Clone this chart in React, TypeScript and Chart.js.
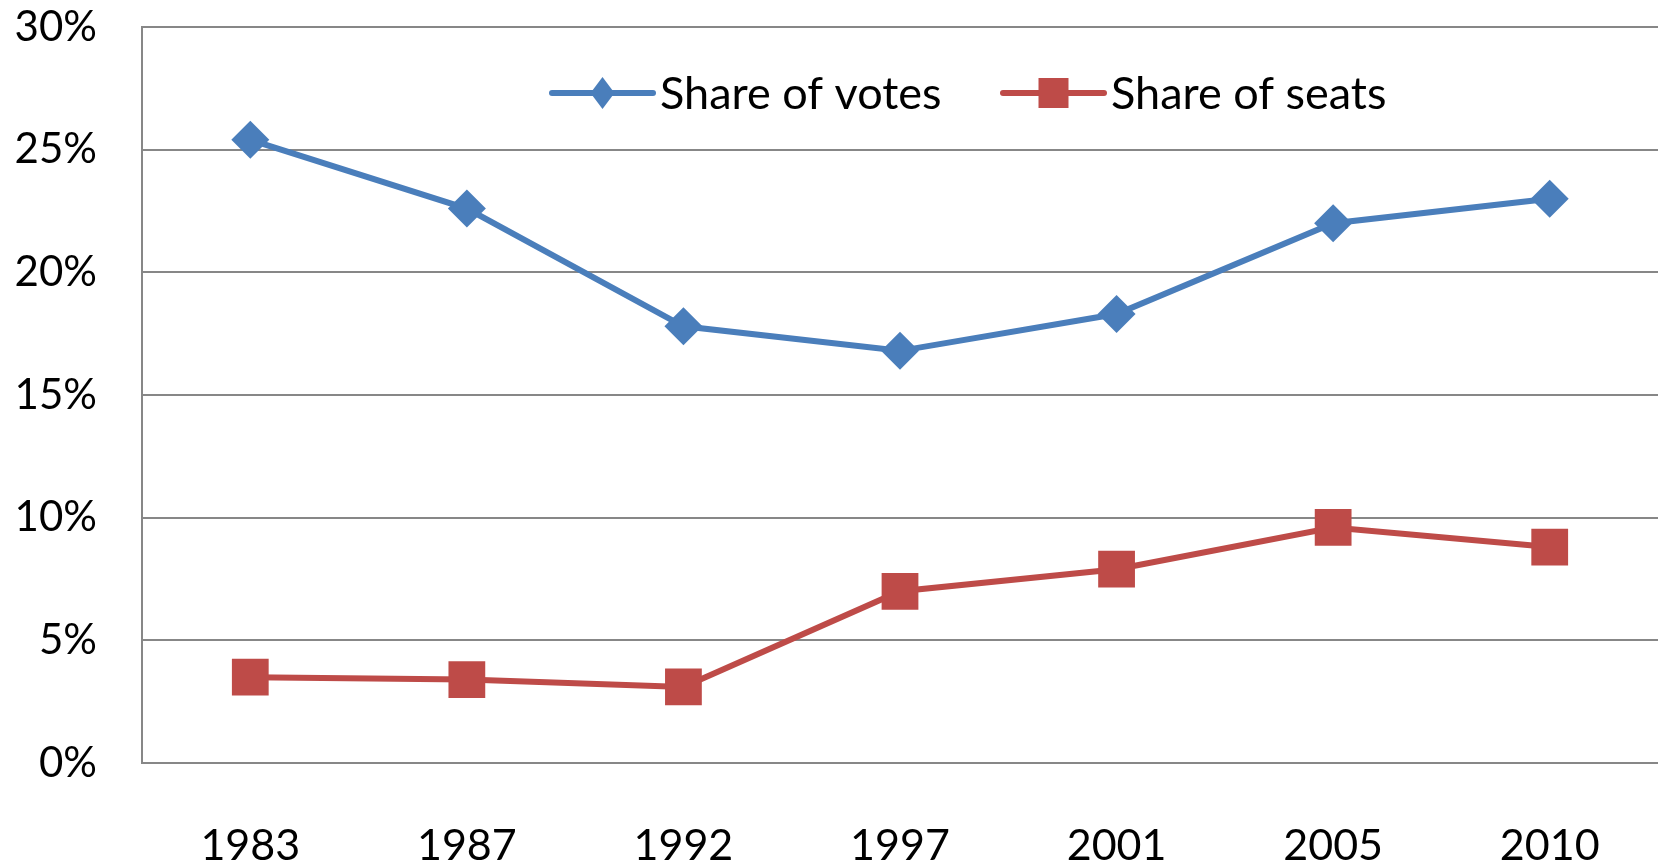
import React, { useEffect, useRef } from "react";
import { Chart, registerables } from "chart.js";

Chart.register(...registerables);

// ---- Data ----
const years = ["1983", "1987", "1992", "1997", "2001", "2005", "2010"];
const shareOfVotes = [25.4, 22.6, 17.8, 16.8, 18.3, 22.0, 23.0];
const shareOfSeats = [3.5, 3.4, 3.1, 7.0, 7.9, 9.6, 8.8];
const seriesLabels = ["Share of votes", "Share of seats"];
const yMin = 0;
const yMax = 30;
const yStep = 5;

const BLUE = "#4A7EBB";
const RED = "#BE4B48";
const GRID = "#878787";
const FONT = "Lato";

const zeroPadding = (s: any) => {
  s.paddingTop = 0;
  s.paddingBottom = 0;
  s.paddingLeft = 0;
  s.paddingRight = 0;
};

const legendPlugin = {
  id: "excelLegend",
  afterDraw(chart: any) {
    const ctx = chart.ctx as CanvasRenderingContext2D;
    const y = 93;
    const starts = [552, 1003];
    const lineLen = 101;
    ctx.save();
    ctx.font = `45px ${FONT}`;
    ctx.textBaseline = "middle";
    ctx.textAlign = "left";
    chart.data.datasets.forEach((ds: any, i: number) => {
      const x0 = starts[i];
      ctx.strokeStyle = ds.borderColor;
      ctx.lineWidth = 6;
      ctx.lineCap = "round";
      ctx.beginPath();
      ctx.moveTo(x0, y);
      ctx.lineTo(x0 + lineLen, y);
      ctx.stroke();
      const cx = x0 + lineLen / 2;
      ctx.fillStyle = ds.backgroundColor;
      ctx.beginPath();
      if (ds.pointStyle === "rectRot") {
        ctx.moveTo(cx, y - 16);
        ctx.lineTo(cx + 12, y);
        ctx.lineTo(cx, y + 16);
        ctx.lineTo(cx - 12, y);
        ctx.closePath();
      } else {
        ctx.rect(cx - 15, y - 15, 30, 30);
      }
      ctx.fill();
      ctx.fillStyle = "#000";
      ctx.fillText(ds.label, x0 + lineLen + 7, y + 1);
    });
    ctx.restore();
  },
};

export default function App() {
  const ref = useRef<HTMLCanvasElement | null>(null);

  useEffect(() => {
    if (!ref.current) return;
    const chart = new Chart(ref.current, {
      type: "line",
      data: {
        labels: years,
        datasets: [
          {
            label: seriesLabels[0],
            data: shareOfVotes,
            borderColor: BLUE,
            backgroundColor: BLUE,
            borderWidth: 6,
            pointStyle: "rectRot",
            pointRadius: 19,
            pointHoverRadius: 19,
            pointBorderWidth: 0,
            pointBackgroundColor: BLUE,
            tension: 0,
          },
          {
            label: seriesLabels[1],
            data: shareOfSeats,
            borderColor: RED,
            backgroundColor: RED,
            borderWidth: 6,
            pointStyle: "rect",
            pointRadius: 26,
            pointHoverRadius: 26,
            pointBorderWidth: 0,
            pointBackgroundColor: RED,
            tension: 0,
          },
        ],
      },
      options: {
        responsive: false,
        animation: false,
        layout: { autoPadding: false, padding: { left: 0, right: 7, top: 27, bottom: 0 } },
        plugins: {
          legend: { display: false },
          tooltip: { enabled: false },
        },
        scales: {
          x: {
            offset: true,
            grid: { display: false, drawTicks: false },
            border: { display: false },
            ticks: {
              color: "#000",
              font: { family: FONT, size: 43 },
              padding: 57,
              maxRotation: 0,
              autoSkip: false,
            },
            afterFit: (s: any) => {
              s.height = 102;
              zeroPadding(s);
            },
          },
          y: {
            min: yMin,
            max: yMax,
            grid: { color: GRID, lineWidth: 2, drawTicks: false },
            border: { display: true, color: GRID, width: 2 },
            ticks: {
              stepSize: yStep,
              color: "#000",
              font: { family: FONT, size: 42 },
              padding: 45,
              callback: (v: any) => `${v}%`,
            },
            afterFit: (s: any) => {
              s.width = 142;
              zeroPadding(s);
            },
          },
        },
      },
      plugins: [legendPlugin],
    });
    return () => chart.destroy();
  }, []);

  return (
    <div style={{ position: "fixed", left: 0, top: 0, width: 1665, height: 865, background: "#fff" }}>
      <canvas ref={ref} width={1665} height={865} style={{ display: "block" }} />
    </div>
  );
}
